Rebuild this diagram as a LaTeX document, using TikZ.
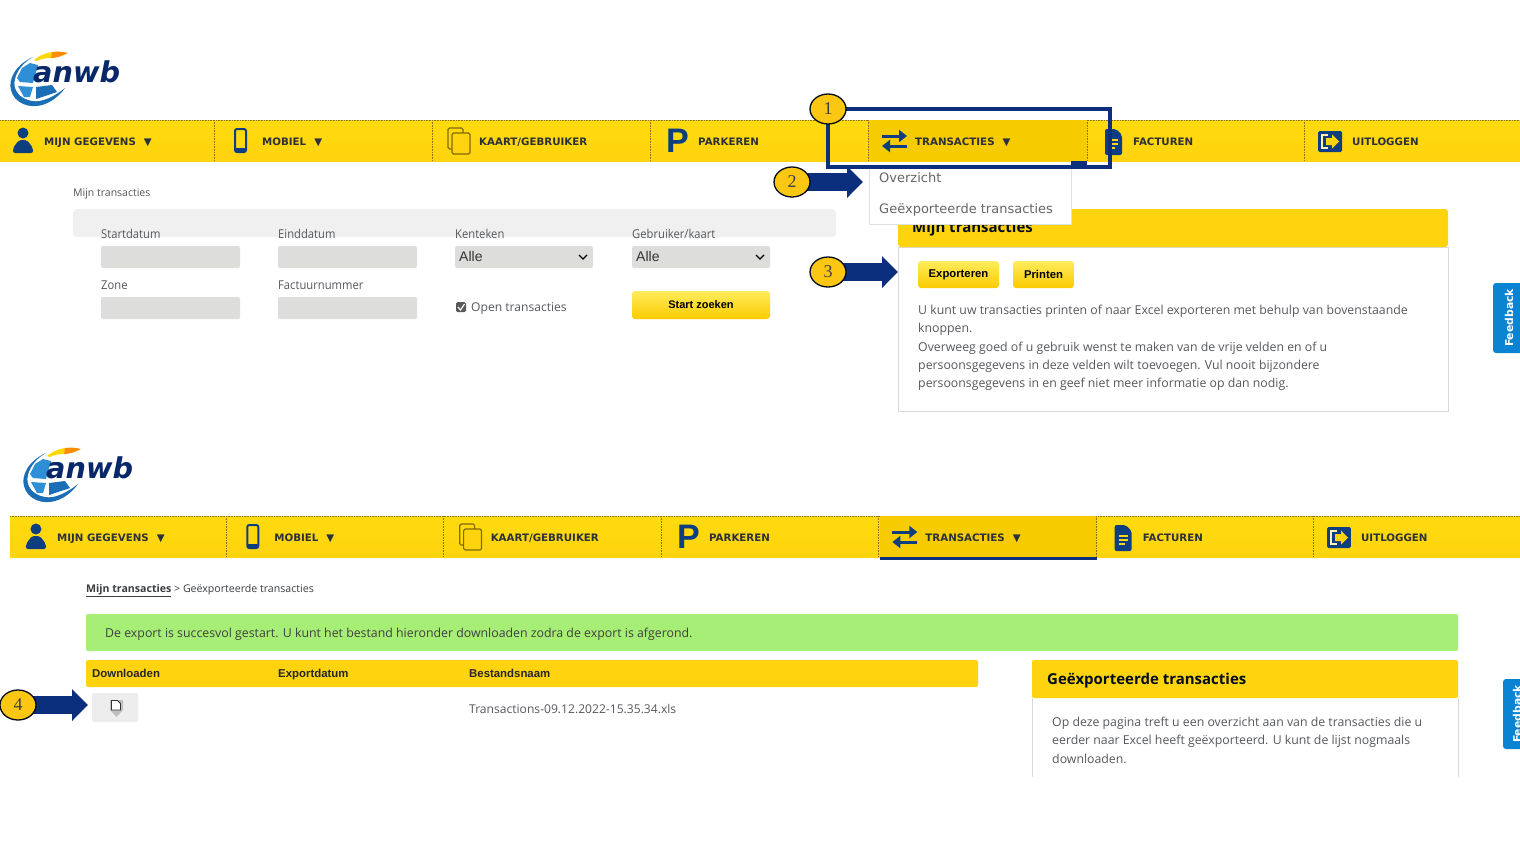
\documentclass[tikz,border=0pt]{standalone}
\usepackage{fontspec}
\setmainfont{Open Sans}
\newfontfamily\menufont{DejaVu Sans}
\newfontfamily\headfont{Liberation Sans}
\newfontfamily\numfont{Liberation Serif}
\newfontfamily\formfont[FakeStretch=0.92]{Open Sans}
\usetikzlibrary{arrows.meta, shapes.geometric}
\definecolor{navblue}{HTML}{0B2F7C}
\definecolor{iconblue}{HTML}{0D3F80}
\definecolor{baryellow}{HTML}{FFD40F}
\definecolor{darkyellow}{HTML}{F6CB00}
\definecolor{numyellow}{HTML}{FBC713}
\definecolor{inkgray}{HTML}{55585C}
\definecolor{fieldgray}{HTML}{DDDDDB}
\definecolor{menuink}{HTML}{2C3038}
\definecolor{tabblue}{HTML}{0A83D2}
\definecolor{okgreen}{HTML}{A6EE75}
\definecolor{logodark}{HTML}{1B6DB5}
\definecolor{logolight}{HTML}{2E8FD6}
\definecolor{btntop}{HTML}{FFEC5C}
\definecolor{btnlow}{HTML}{FBCB00}
\tikzset{
  bar/.style = {top color=baryellow!85!yellow, bottom color=baryellow, draw=none},
  navsep/.style = {draw=black!45!baryellow, densely dotted, line width=0.6},
  navlabel/.style = {anchor=base west, inner sep=0, text=menuink, font=\menufont\bfseries\fontsize{10.25}{12}\selectfont},
  plain/.style = {anchor=base west, inner sep=0, text=inkgray, font=\formfont\fontsize{12.2}{15}\selectfont},
  body/.style = {anchor=north west, inner sep=0, align=left, text=inkgray, font=\fontsize{12.3}{18.25}\selectfont},
  field/.style = {fill=fieldgray, rounded corners=2, draw=none},
  btn/.style = {top color=btntop, bottom color=btnlow, rounded corners=3, draw=none, inner sep=0, text=black, font=\headfont\bfseries\fontsize{11.3}{14}\selectfont},
  colhead/.style = {anchor=base west, inner sep=0, text=black!85, font=\headfont\bfseries\fontsize{11.4}{14}\selectfont},
  num/.style = {ellipse, fill=numyellow, draw=black!80!navblue, line width=1.3, minimum width=36, minimum height=30, inner sep=0, text=black!75, font=\numfont\fontsize{18}{20}\selectfont},
  pointer/.style = {draw=navblue, line width=18, -{Triangle[length=16, width=31]}},
  feedback/.style = {rotate=90, inner sep=0, text=white, font=\menufont\bfseries\fontsize{10.8}{13}\selectfont},
  menuitem/.style = {anchor=base west, inner sep=0, text=black!60, font=\menufont\fontsize{13}{15}\selectfont},
  anwblogo/.pic = {
    \fill [yellow!75!orange] (34,60) .. controls (40,55) and (46,53) .. (52,52) -- (51,58) .. controls (46,58) and (40,59) .. (37,61) -- cycle;
    \fill [orange!90!yellow] (52,52) .. controls (58,51) and (64,52) .. (68,53) .. controls (62,56) and (57,58) .. (51,58) -- cycle;
    \fill [logodark] (33,57) .. controls (15,65) and (8,80) .. (11,90) .. controls (14,103) and (30,110) .. (45,104) .. controls (53,101) and (60,95) .. (65,88) .. controls (55,96) and (42,103) .. (32,101) .. controls (20,99) and (12,90) .. (15,79) .. controls (17,70) and (24,62) .. (33,57) -- cycle;
    \fill [logolight] (30,63) -- (38,65) -- (33,83) -- (20,82) -- (17,78) -- (22,68) -- cycle;
    \fill [logolight] (18,86) -- (33,87) -- (30,97) -- (24,97) -- cycle;
    \fill [logodark] (36,87) -- (52,85) -- (57,92) -- (36,99) -- cycle;
    \node [anchor=base west, inner sep=0, text=navblue!85!black, font=\menufont\bfseries\itshape\fontsize{28.7}{30}\selectfont] (-word) at (33,82) {anwb};
  },
  navitems/.pic = {
    \draw [navsep] (214,120) -- (214,161) (432,120) -- (432,161) (650,120) -- (650,161) (868,120) -- (868,161) (1087,120) -- (1087,161) (1304,120) -- (1304,161);
    % person
    \fill [iconblue] (23,133) circle (5.5);
    \fill [iconblue, rounded corners=2] (13,153) -- (13,148) -- (19,140) -- (27,140) -- (33,148) -- (33,153) -- cycle;
    \node [navlabel] (-gegevens) at (44,145) {MIJN GEGEVENS\hspace{8pt}▼};
    % phone
    \draw [iconblue, line width=2, rounded corners=2] (235,129) rectangle (246,152);
    \fill [iconblue] (235,148) rectangle (246,152);
    \node [navlabel] (-mobiel) at (262,145) {MOBIEL\hspace{8pt}▼};
    % card
    \draw [black!50!baryellow, line width=1.2, rounded corners=1.5] (448,128) rectangle (463,149);
    \draw [black!50!baryellow, line width=1.2, rounded corners=1.5, fill=baryellow] (452,133) rectangle (470,154);
    \node [navlabel] (-kaart) at (479,145) {KAART/GEBRUIKER};
    \node [inner sep=0, text=iconblue, font=\headfont\bfseries\fontsize{34}{34}\selectfont] (-p) at (677.5,141) {P};
    \node [navlabel] (-parkeren) at (698,145) {PARKEREN};
    % swap arrows
    \draw [iconblue, line width=3, -{Triangle[length=8, width=12]}] (882,136) -- (907,136);
    \draw [iconblue, line width=3, -{Triangle[length=8, width=12]}] (907,146) -- (882,146);
    \node [navlabel] (-transacties) at (915,145) {TRANSACTIES\hspace{8pt}▼};
    % file
    \fill [iconblue, rounded corners=2] (1105,129) -- (1116,129) -- (1122,135) -- (1122,155) -- (1105,155) -- cycle;
    \draw [baryellow, line width=1.3] (1109,140) -- (1118,140) (1109,144) -- (1118,144) (1109,148) -- (1115,148);
    \node [navlabel] (-facturen) at (1133,145) {FACTUREN};
    % logout
    \fill [iconblue, rounded corners=1.5] (1318,131) rectangle (1342,152);
    \draw [white!70!baryellow, line width=1.4] (1328,135) -- (1322,135) -- (1322,148) -- (1328,148);
    \fill [baryellow] (1326,138) -- (1332,138) -- (1332,134.5) -- (1339,141.5) -- (1332,148.5) -- (1332,145) -- (1326,145) -- cycle;
    \node [navlabel] (-uitloggen) at (1352,145) {UITLOGGEN};
  }
}

\begin{document}
\begin{tikzpicture}[x=1pt, y=-1pt]
  \useasboundingbox [fill=white] (0,0) rectangle (1520,855);

  % upper screen
  \pic (logoa) at (0,0) {anwblogo};
  \fill [bar] (0,120) rectangle (1520,161);
  \draw [navsep] (0,120) -- (1520,120);
  \fill [darkyellow] (868,120) rectangle (1087,161);
  \fill [navblue] (1071,161) rectangle (1087,165);
  \pic (nava) at (0,0) {navitems};

  \node [plain, font=\fontsize{10.5}{13}\selectfont] (crumba) at (73,196) {Mijn transacties};
  \fill [black!6, rounded corners=4] (73,209) rectangle (836,237);
  \node [plain] (lstart) at (101,238) {Startdatum};
  \node [plain] (leind) at (278,238) {Einddatum};
  \node [plain] (lkent) at (455,238) {Kenteken};
  \node [plain] (lgebr) at (632,238) {Gebruiker/kaart};
  \node [plain] (lzone) at (101,289) {Zone};
  \node [plain] (lfact) at (278,289) {Factuurnummer};
  \fill [field] (101,246) rectangle (240,268);
  \fill [field] (278,246) rectangle (417,268);
  \fill [field] (455,246) rectangle (593,268);
  \fill [field] (632,246) rectangle (770,268);
  \fill [field] (101,297) rectangle (240,319);
  \fill [field] (278,297) rectangle (417,319);
  \node [plain, text=black!80, font=\headfont\fontsize{14}{16}\selectfont] (alle1) at (459,261) {Alle};
  \node [plain, text=black!80, font=\headfont\fontsize{14}{16}\selectfont] (alle2) at (636,261) {Alle};
  \draw [black, line width=1.3] (579,255) -- (583,259) -- (587,255);
  \draw [black, line width=1.3] (756,255) -- (760,259) -- (764,255);
  \fill [black!65, rounded corners=1.5] (456,302) rectangle (466,312);
  \draw [white, line width=1.1] (458,307) -- (460.5,310) -- (464.5,304);
  \node [plain, font=\fontsize{12.1}{15}\selectfont] (lopen) at (471,311) {Open transacties};
  \node [btn, minimum width=138, minimum height=28, font=\headfont\bfseries\fontsize{11}{14}\selectfont] (zoeken) at (701,305) {Start zoeken};

  \draw [black!15] (898,247) rectangle (1448,411);
  \fill [baryellow, rounded corners=3] (898,209) rectangle (1448,247);
  \node [anchor=west, inner sep=0, text=black!75!navblue, font=\bfseries\fontsize{15}{18}\selectfont] (heada) at (912,229) {Mijn transacties};
  \node [btn, minimum width=81, minimum height=27] (export) at (958.5,274.5) {Exporteren};
  \node [btn, minimum width=61, minimum height=27] (print) at (1043.5,274.5) {Printen};
  \node [body] (uitleg) at (918,305) {U kunt uw transacties printen of naar Excel exporteren met behulp van bovenstaande\\knoppen.\\Overweeg goed of u gebruik wenst te maken van de vrije velden en of u\\persoonsgegevens in deze velden wilt toevoegen. Vul nooit bijzondere\\persoonsgegevens in en geef niet meer informatie op dan nodig.};

  \filldraw [fill=white, draw=black!12] (869,165) rectangle (1071,224);
  \node [menuitem] (overzicht) at (879,182) {Overzicht};
  \node [menuitem] (geexp) at (879,213) {Geëxporteerde transacties};

  \fill [tabblue, rounded corners=3] (1530,283) -- (1493,283) -- (1493,353) -- (1530,353);
  \node [feedback] (feeda) at (1509,318) {Feedback};

  % lower screen
  \pic (logob) at (13,396) {anwblogo};
  \fill [bar] (10,516) rectangle (1520,557);
  \draw [navsep] (10,516) -- (1520,516);
  \fill [darkyellow] (880,516) rectangle (1097,557);
  \fill [navblue] (880,557) rectangle (1097,560);
  \pic [xscale=.997] (navb) at (13,396) {navitems};

  \node [plain, text=inkgray!70!black, font=\fontsize{10.6}{13}\selectfont] (crumbb) at (86,592) {\textbf{\underline{Mijn transacties}} > Geëxporteerde transacties};
  \fill [okgreen, rounded corners=2] (86,614) rectangle (1458,651);
  \node [plain, text=black!75, font=\fontsize{12.33}{15}\selectfont] (melding) at (105,637.5) {De export is succesvol gestart. U kunt het bestand hieronder downloaden zodra de export is afgerond.};

  \fill [baryellow, rounded corners=2] (86,660) rectangle (978,687);
  \node [colhead] (cdown) at (92,677) {Downloaden};
  \node [colhead] (cdatum) at (278,677) {Exportdatum};
  \node [colhead] (cnaam) at (469,677) {Bestandsnaam};
  \fill [black!7, rounded corners=2] (92,693) rectangle (138,722);
  \fill [black!25] (110,700) -- (123,700) -- (123,710) -- (116.5,717) -- (110,710) -- cycle;
  \filldraw [fill=white, draw=black!80, line width=0.9] (111.5,700.5) -- (117.5,700.5) -- (120.5,703.5) -- (120.5,710) -- (111.5,710) -- cycle;
  \node [plain, font=\fontsize{12.1}{15}\selectfont] (bestand) at (469,713) {Transactions-09.12.2022-15.35.34.xls};

  \draw [black!15] (1032,698) -- (1032,777) (1458,698) -- (1458,777);
  \fill [baryellow, rounded corners=2] (1032,660) rectangle (1458,698);
  \node [anchor=west, inner sep=0, text=black!75!navblue, font=\bfseries\fontsize{15}{18}\selectfont] (headb) at (1047,680.5) {Geëxporteerde transacties};
  \node [body] (uitlegb) at (1052,717) {Op deze pagina treft u een overzicht aan van de transacties die u\\eerder naar Excel heeft geëxporteerd. U kunt de lijst nogmaals\\downloaden.};

  \fill [tabblue, rounded corners=3] (1530,679) -- (1503,679) -- (1503,749) -- (1530,749);
  \node [feedback] (feedb) at (1517,714) {Feedback};

  % callouts
  \draw [navblue, line width=4] (828,109) rectangle (1110,167);
  \coordinate (c2) at (792,182);
  \coordinate (c3) at (828,272);
  \coordinate (c4) at (18,705);
  \coordinate (t2) at (863,182);
  \coordinate (t3) at (898,272);
  \coordinate (t4) at (88,705);
  \draw [pointer] (c2) -- (t2);
  \draw [pointer] (c3) -- (t3);
  \draw [pointer] (c4) -- (t4);
  \node [num] (n1) at (828,109) {1};
  \node [num] (n2) at (c2) {2};
  \node [num] (n3) at (c3) {3};
  \node [num] (n4) at (c4) {4};
\end{tikzpicture}
\end{document}
